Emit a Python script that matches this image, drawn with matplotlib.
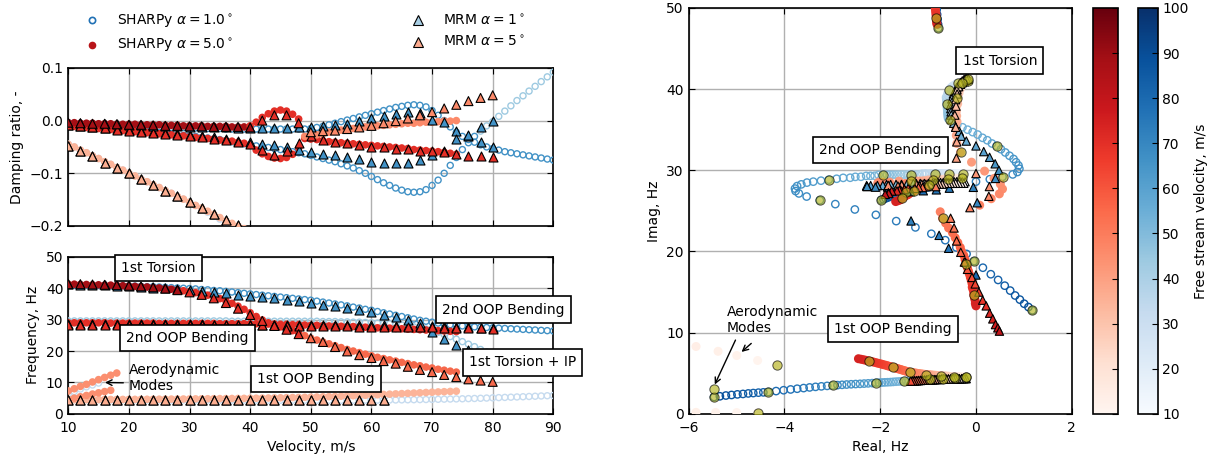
import numpy as np
import matplotlib
matplotlib.use('Agg')
import matplotlib.pyplot as plt
from matplotlib.colors import Normalize
from matplotlib.cm import ScalarMappable
from matplotlib.lines import Line2D

plt.rcParams['font.family'] = 'DejaVu Sans'
plt.rcParams['font.size'] = 10
plt.rcParams['xtick.direction'] = 'in'
plt.rcParams['ytick.direction'] = 'in'
plt.rcParams['xtick.major.pad'] = 5
plt.rcParams['axes.linewidth'] = 1.2

# ---------------- SHARPy, alpha = 1 deg (1 m/s steps, 10..90) ----------------
v1 = np.arange(10, 91)
# torsion mode: natural frequency [Hz] and damping ratio [-]
a1_freq = [41.0, 41.0, 41.0, 41.0, 40.9, 40.9, 40.9, 40.8, 40.8, 40.8,
           40.7, 40.7, 40.6, 40.5, 40.5, 40.4, 40.3, 40.2, 40.1, 40.0,
           39.9, 39.8, 39.6, 39.5, 39.3, 39.2, 39.0, 38.8, 38.6, 38.4,
           38.2, 38.0, 37.8, 37.6, 37.4, 37.2, 37.0, 36.8, 36.6, 36.4,
           36.2, 35.9, 35.6, 35.3, 35.0, 34.7, 34.4, 34.0, 33.7, 33.3,
           33.0, 32.6, 32.2, 31.8, 31.4, 31.0, 30.6, 30.2, 29.8, 29.5,
           29.2, 28.9, 28.6, 28.4, 28.2, 28.0, 27.9, 27.7, 27.6, 27.5,
           27.4, 27.3, 27.2, 27.1, 27.0, 26.9, 26.8, 26.7, 26.6, 26.5, 26.4]
a1_damp = [-0.004, -0.005, -0.005, -0.006, -0.006, -0.007, -0.007, -0.008, -0.008, -0.009,
           -0.009, -0.010, -0.010, -0.011, -0.011, -0.012, -0.012, -0.013, -0.013, -0.013,
           -0.014, -0.014, -0.014, -0.015, -0.015, -0.015, -0.016, -0.016, -0.016, -0.016,
           -0.016, -0.016, -0.016, -0.016, -0.016, -0.016, -0.016, -0.016, -0.016, -0.016,
           -0.015, -0.013, -0.011, -0.008, -0.005, -0.002, 0.001, 0.004, 0.007, 0.010,
           0.013, 0.016, 0.019, 0.022, 0.025, 0.027, 0.029, 0.030, 0.029, 0.026,
           0.019, 0.010, 0.000, -0.012, -0.022, -0.030, -0.036, -0.041, -0.046, -0.050,
           -0.053, -0.056, -0.059, -0.061, -0.063, -0.065, -0.067, -0.069, -0.071, -0.073, -0.075]
# 2nd out-of-plane bending
b1_freq = [29.6, 29.6, 29.6, 29.6, 29.6, 29.6, 29.6, 29.6, 29.6, 29.6,
           29.6, 29.6, 29.6, 29.6, 29.6, 29.6, 29.6, 29.6, 29.6, 29.6,
           29.6, 29.6, 29.6, 29.6, 29.6, 29.6, 29.6, 29.5, 29.5, 29.5,
           29.5, 29.5, 29.5, 29.5, 29.5, 29.5, 29.5, 29.5, 29.5, 29.5,
           29.5, 29.5, 29.4, 29.4, 29.4, 29.3, 29.3, 29.2, 29.2, 29.1,
           29.0, 28.9, 28.8, 28.7, 28.5, 28.3, 28.0, 27.7, 27.4, 27.0,
           26.5, 26.0, 25.3, 24.6, 23.8, 23.0, 22.2, 21.4, 20.5, 19.7,
           18.8, 18.0, 17.2, 16.5, 15.8, 15.2, 14.6, 14.1, 13.6, 13.2, 12.8]
b1_damp = [-0.009, -0.010, -0.011, -0.012, -0.013, -0.014, -0.015, -0.016, -0.017, -0.018,
           -0.019, -0.020, -0.021, -0.022, -0.023, -0.024, -0.025, -0.026, -0.027, -0.028,
           -0.029, -0.030, -0.032, -0.033, -0.035, -0.036, -0.038, -0.040, -0.042, -0.044,
           -0.046, -0.048, -0.049, -0.051, -0.053, -0.055, -0.057, -0.059, -0.061, -0.063,
           -0.066, -0.069, -0.072, -0.075, -0.078, -0.082, -0.086, -0.090, -0.095, -0.100,
           -0.106, -0.112, -0.118, -0.123, -0.128, -0.132, -0.135, -0.136, -0.135, -0.131,
           -0.123, -0.113, -0.100, -0.085, -0.070, -0.055, -0.042, -0.030, -0.020, -0.010,
           -0.002, 0.008, 0.018, 0.028, 0.038, 0.047, 0.056, 0.065, 0.074, 0.083, 0.092]
# 1st out-of-plane bending
c1_freq = [4.50, 4.50, 4.49, 4.49, 4.48, 4.48, 4.47, 4.47, 4.46, 4.46,
           4.45, 4.45, 4.44, 4.44, 4.43, 4.43, 4.42, 4.42, 4.41, 4.41,
           4.40, 4.40, 4.39, 4.39, 4.38, 4.38, 4.37, 4.37, 4.36, 4.36,
           4.35, 4.35, 4.34, 4.34, 4.33, 4.33, 4.32, 4.32, 4.31, 4.31,
           4.30, 4.30, 4.30, 4.30, 4.30, 4.30, 4.31, 4.32, 4.33, 4.34,
           4.35, 4.36, 4.38, 4.40, 4.42, 4.45, 4.48, 4.51, 4.54, 4.57,
           4.60, 4.64, 4.68, 4.72, 4.76, 4.80, 4.85, 4.90, 4.96, 5.03,
           5.10, 5.17, 5.24, 5.31, 5.38, 5.45, 5.53, 5.61, 5.69, 5.77, 5.85]
c1_damp = [-0.045, -0.050, -0.056, -0.061, -0.067, -0.072, -0.078, -0.083, -0.089, -0.094,
           -0.100, -0.105, -0.111, -0.116, -0.122, -0.127, -0.133, -0.138, -0.144, -0.149,
           -0.155, -0.161, -0.168, -0.174, -0.181, -0.187, -0.194, -0.200, -0.207, -0.213,
           -0.220, -0.233, -0.246, -0.259, -0.272, -0.285, -0.298, -0.311, -0.324, -0.337,
           -0.350, -0.363, -0.376, -0.389, -0.402, -0.415, -0.428, -0.441, -0.454, -0.467,
           -0.480, -0.497, -0.514, -0.531, -0.548, -0.565, -0.582, -0.599, -0.616, -0.633,
           -0.650, -0.670, -0.690, -0.710, -0.730, -0.750, -0.770, -0.790, -0.810, -0.830,
           -0.850, -0.859, -0.867, -0.876, -0.884, -0.893, -0.901, -0.910, -0.918, -0.927, -0.935]
# aerodynamic mode and high-frequency mode (alpha = 1)
d1_v = [10, 11, 12, 13, 14, 15]
d1_freq = [6.3, 7.1, 7.9, 8.6, 9.2, 9.8]
d1_damp = [-0.87, -0.87, -0.87, -0.87, -0.87, -0.87]
g1_v = [84, 85, 86, 87, 88, 89, 90]
g1_freq = [51.0, 50.4, 49.8, 49.2, 48.6, 48.0, 47.5]
g1_damp = [-0.0165, -0.0165, -0.0165, -0.0165, -0.0165, -0.0165, -0.0165]

# ---------------- SHARPy, alpha = 5 deg (1 m/s steps, 10..74) ----------------
v5 = np.arange(10, 75)
a5_freq = [41.3, 41.3, 41.2, 41.2, 41.1, 41.1, 41.0, 41.0, 40.9, 40.8,
           40.7, 40.6, 40.5, 40.4, 40.2, 40.1, 39.9, 39.7, 39.5, 39.2,
           38.9, 38.6, 38.2, 37.8, 37.3, 36.7, 36.0, 35.2, 34.3, 33.3,
           32.2, 31.0, 29.9, 29.0, 28.3, 27.7, 27.1, 26.5, 25.7, 24.9,
           24.1, 23.5, 22.9, 22.3, 21.7, 21.1, 20.5, 20.0, 19.5, 19.0,
           18.5, 18.0, 17.6, 17.2, 16.8, 16.4, 16.0, 15.6, 15.3, 14.9,
           14.6, 14.2, 13.9, 13.6, 13.3]
a5_damp = [-0.004, -0.004, -0.005, -0.005, -0.005, -0.006, -0.006, -0.006, -0.007, -0.007,
           -0.007, -0.007, -0.008, -0.008, -0.008, -0.008, -0.009, -0.009, -0.009, -0.010,
           -0.010, -0.010, -0.010, -0.011, -0.011, -0.011, -0.011, -0.012, -0.012, -0.012,
           -0.010, -0.003, 0.006, 0.013, 0.018, 0.020, 0.018, 0.012, 0.003, -0.030,
           -0.029, -0.027, -0.025, -0.022, -0.020, -0.018, -0.016, -0.015, -0.013, -0.012,
           -0.011, -0.010, -0.009, -0.008, -0.007, -0.006, -0.005, -0.005, -0.004, -0.003,
           -0.003, -0.002, -0.001, -0.001, 0.000]
b5_freq = [29.0, 29.0, 29.0, 29.0, 29.0, 29.0, 29.0, 28.9, 28.9, 28.9,
           28.9, 28.9, 28.9, 28.9, 28.9, 28.8, 28.8, 28.8, 28.8, 28.8,
           28.8, 28.8, 28.8, 28.8, 28.8, 28.7, 28.7, 28.7, 28.7, 28.7,
           28.7, 28.7, 28.6, 28.6, 28.6, 28.5, 28.5, 28.4, 28.4, 28.3,
           28.2, 28.2, 28.1, 28.0, 28.0, 27.9, 27.8, 27.8, 27.7, 27.6,
           27.5, 27.4, 27.4, 27.3, 27.2, 27.1, 27.0, 26.9, 26.8, 26.7,
           26.6, 26.5, 26.4, 26.3, 26.2]
b5_damp = [-0.010, -0.011, -0.012, -0.013, -0.014, -0.015, -0.016, -0.017, -0.018, -0.019,
           -0.020, -0.021, -0.022, -0.023, -0.024, -0.025, -0.026, -0.027, -0.028, -0.029,
           -0.031, -0.032, -0.033, -0.034, -0.035, -0.037, -0.038, -0.039, -0.041, -0.043,
           -0.047, -0.056, -0.063, -0.068, -0.071, -0.072, -0.070, -0.064, -0.052, -0.034,
           -0.035, -0.036, -0.038, -0.040, -0.041, -0.042, -0.043, -0.044, -0.045, -0.046,
           -0.047, -0.048, -0.049, -0.050, -0.051, -0.052, -0.053, -0.055, -0.056, -0.057,
           -0.058, -0.059, -0.060, -0.062, -0.064]
c5_freq = [4.50, 4.51, 4.52, 4.53, 4.54, 4.55, 4.56, 4.57, 4.58, 4.59,
           4.60, 4.61, 4.63, 4.64, 4.66, 4.67, 4.69, 4.70, 4.72, 4.73,
           4.75, 4.77, 4.79, 4.81, 4.83, 4.85, 4.87, 4.89, 4.91, 4.93,
           4.95, 4.98, 5.01, 5.04, 5.08, 5.11, 5.15, 5.19, 5.22, 5.26,
           5.30, 5.36, 5.42, 5.49, 5.56, 5.63, 5.70, 5.78, 5.85, 5.93,
           6.00, 6.09, 6.18, 6.27, 6.36, 6.45, 6.54, 6.63, 6.72, 6.81,
           6.90, 6.98, 7.06, 7.14, 7.22]
c5_damp = [-0.045, -0.050, -0.056, -0.061, -0.067, -0.072, -0.078, -0.083, -0.089, -0.094,
           -0.100, -0.105, -0.111, -0.116, -0.122, -0.127, -0.133, -0.138, -0.144, -0.149,
           -0.155, -0.161, -0.166, -0.172, -0.178, -0.184, -0.190, -0.195, -0.200, -0.205,
           -0.210, -0.215, -0.220, -0.225, -0.230, -0.235, -0.240, -0.245, -0.250, -0.255,
           -0.260, -0.263, -0.266, -0.269, -0.272, -0.275, -0.278, -0.281, -0.284, -0.287,
           -0.290, -0.293, -0.297, -0.300, -0.304, -0.307, -0.311, -0.314, -0.318, -0.321,
           -0.325, -0.329, -0.332, -0.336, -0.340]
d5_v = [10, 11, 12, 13, 14, 15, 16, 17, 18]
d5_freq = [7.3, 8.0, 8.75, 9.4, 10.15, 10.9, 11.6, 12.3, 13.0]
d5_damp = [-0.570, -0.570, -0.571, -0.573, -0.576, -0.580, -0.585, -0.590, -0.595]
e5_v = [10, 11, 12, 13, 14, 15, 16, 17]
e5_freq = [4.56, 5.0, 5.44, 5.85, 6.3, 6.7, 7.1, 7.5]
e5_damp = [-0.9995, -0.9995, -0.9995, -0.9995, -0.9995, -0.9995, -0.9995, -0.9995]
g5_v = [60, 61, 62, 63, 64, 65, 66, 67, 68, 69, 70, 71, 72, 73, 74]
g5_freq = [52.0, 51.6, 51.2, 50.9, 50.6, 50.3, 50.0, 49.7, 49.4, 49.1, 48.8, 48.6, 48.4, 48.2, 48.0]
g5_damp = [-0.017] * 15

# ---------------- MRM (2 m/s steps, 10..80) ----------------
vm = np.arange(10, 81, 2)
p1_freq = [41.2, 41.1, 41.0, 40.9, 40.8, 40.6, 40.4, 40.2, 40.0, 39.7,
           39.4, 39.1, 38.8, 38.4, 38.0, 37.6, 37.2, 36.8, 36.3, 35.8,
           35.3, 34.8, 34.2, 33.6, 33.0, 32.3, 31.6, 30.8, 30.0, 29.0,
           26.0, 23.8, 22.0, 20.4, 18.7, 17.1]
p1_damp = [-0.004, -0.005, -0.006, -0.006, -0.007, -0.008, -0.009, -0.010, -0.010, -0.011,
           -0.012, -0.012, -0.013, -0.013, -0.014, -0.014, -0.014, -0.014, -0.014, -0.013,
           -0.012, -0.010, -0.009, -0.006, 0.000, 0.005, 0.009, 0.013, 0.016, 0.014,
           0.001, -0.057, -0.035, -0.028, -0.012, 0.000]
q1_freq = [28.6, 28.6, 28.6, 28.6, 28.6, 28.5, 28.5, 28.5, 28.5, 28.5,
           28.5, 28.5, 28.4, 28.4, 28.4, 28.4, 28.4, 28.4, 28.3, 28.3,
           28.3, 28.3, 28.3, 28.2, 28.2, 28.2, 28.2, 28.1, 28.1, 28.0,
           28.0, 27.9, 27.8, 27.6, 27.5, 27.4]
q1_damp = [-0.008, -0.010, -0.012, -0.014, -0.016, -0.018, -0.020, -0.022, -0.024, -0.026,
           -0.028, -0.030, -0.032, -0.035, -0.038, -0.041, -0.044, -0.046, -0.051, -0.055,
           -0.059, -0.063, -0.066, -0.069, -0.073, -0.078, -0.081, -0.081, -0.081, -0.075,
           -0.066, -0.002, -0.020, -0.030, -0.040, -0.050]
t5_freq = [41.3, 41.3, 41.2, 41.1, 41.0, 40.8, 40.6, 40.3, 39.9, 39.4,
           38.7, 37.9, 36.8, 35.3, 33.5, 31.5, 29.6, 28.0, 26.8, 25.4,
           24.1, 22.9, 21.3, 19.9, 18.7, 17.8, 16.8, 16.0, 15.0, 14.0,
           13.3, 12.4, 11.7, 11.0, 10.6, 10.2]
t5_damp = [-0.004, -0.005, -0.006, -0.006, -0.007, -0.008, -0.008, -0.009, -0.010, -0.010,
           -0.011, -0.011, -0.012, -0.012, -0.012, -0.013, 0.000, 0.010, 0.010, -0.005,
           -0.022, -0.020, -0.019, -0.016, -0.013, -0.010, -0.005, -0.001, 0.004, 0.010,
           0.016, 0.023, 0.030, 0.037, 0.043, 0.048]
s5_freq = [28.4, 28.4, 28.4, 28.4, 28.4, 28.4, 28.4, 28.4, 28.3, 28.3,
           28.3, 28.3, 28.3, 28.3, 28.3, 28.3, 28.2, 28.2, 28.1, 28.1,
           28.0, 28.0, 27.9, 27.9, 27.8, 27.8, 27.8, 27.7, 27.7, 27.6,
           27.6, 27.5, 27.5, 27.3, 27.2, 27.1]
s5_damp = [-0.009, -0.011, -0.013, -0.015, -0.017, -0.019, -0.021, -0.023, -0.025, -0.027,
           -0.029, -0.031, -0.034, -0.037, -0.040, -0.044, -0.055, -0.065, -0.058, -0.042,
           -0.030, -0.037, -0.040, -0.043, -0.046, -0.050, -0.051, -0.054, -0.054, -0.057,
           -0.058, -0.060, -0.064, -0.067, -0.067, -0.070]
vm_oop = np.arange(10, 63, 2)
u_freq = [4.35, 4.35, 4.35, 4.34, 4.34, 4.34, 4.33, 4.33, 4.33, 4.32,
          4.32, 4.32, 4.31, 4.31, 4.31, 4.30, 4.30, 4.30, 4.29, 4.29,
          4.29, 4.28, 4.28, 4.27, 4.27, 4.26, 4.26]
u_damp = [-0.048, -0.058, -0.068, -0.080, -0.090, -0.100, -0.111, -0.122, -0.133, -0.144,
          -0.155, -0.166, -0.177, -0.188, -0.199, -0.210, -0.220, -0.230, -0.240, -0.250,
          -0.260, -0.270, -0.280, -0.290, -0.300, -0.310, -0.320]

norm = Normalize(10, 100)
blues = plt.get_cmap('Blues')
reds = plt.get_cmap('Reds')


def seg_colors(v, breaks, colors):
    # colour per point: first break that v is below picks the colour
    out = []
    for x in v:
        c = colors[-1]
        for b, col in zip(breaks, colors):
            if x <= b:
                c = col
                break
        out.append(c)
    return out


def to_locus(freq, damp):
    freq = np.asarray(freq, dtype=float)
    damp = np.asarray(damp, dtype=float)
    return damp * freq, freq * np.sqrt(1 - damp ** 2)


fig = plt.figure(figsize=(12.25, 4.65), dpi=100)
ax_d = fig.add_axes([0.0557, 0.514, 0.396, 0.340])
ax_f = fig.add_axes([0.0557, 0.110, 0.396, 0.3376])
ax_r = fig.add_axes([0.5622, 0.110, 0.3127, 0.873])
cax_r = fig.add_axes([0.8922, 0.110, 0.0204, 0.873])
cax_b = fig.add_axes([0.9286, 0.110, 0.0163, 0.873])

MID_B, LIGHT_B, PALE_B = '#4292c6', '#9ecae1', '#c6dbef'
DARK_R, RED, TOMATO, SALMON, LIGHT_S, AERO_R = '#a50f15', '#e32f27', '#f6694c', '#fc8a6a', '#fcb499', '#fb8f70'


def s1(ax, v, y, col):
    ax.scatter(v, y, s=19, facecolors='none', edgecolors=col, linewidths=1.0, zorder=3)


def s5(ax, v, y, col):
    ax.scatter(v, y, s=30, c=col, edgecolors='none', zorder=4)


def mrm(ax, v, y, col, z=5):
    ax.scatter(v, y, s=42, marker='^', c=col, edgecolors='k', linewidths=0.8, zorder=z)


# ---- damping ratio ----
s1(ax_d, v1, c1_damp, PALE_B)
s1(ax_d, v1, a1_damp, MID_B)
s1(ax_d, v1, b1_damp, seg_colors(v1, [77], [MID_B, LIGHT_B]))
s5(ax_d, v5, c5_damp, LIGHT_S)
s5(ax_d, v5, b5_damp, RED)
s5(ax_d, v5, a5_damp, seg_colors(v5, [39, 48], [DARK_R, RED, SALMON]))
mrm(ax_d, vm_oop, u_damp, PALE_B)
mrm(ax_d, vm, q1_damp, MID_B)
mrm(ax_d, vm, p1_damp, MID_B)
mrm(ax_d, vm_oop, u_damp, '#fcae91', 6)
mrm(ax_d, vm, s5_damp, RED, 6)
mrm(ax_d, vm, t5_damp, seg_colors(vm, [40, 48], [DARK_R, RED, SALMON]), 6)
ax_d.set_xlim(10, 90)
ax_d.set_ylim(-0.2, 0.1)
ax_d.set_yticks([-0.2, -0.1, 0.0, 0.1])
ax_d.set_xticks(range(10, 91, 10))
ax_d.tick_params(labelbottom=False, top=True, right=True, length=4)
ax_d.set_ylabel('Damping ratio, -')

# ---- frequency ----
s1(ax_f, v1, c1_freq, PALE_B)
s1(ax_f, d1_v, d1_freq, PALE_B)
s1(ax_f, v1, b1_freq, LIGHT_B)
s1(ax_f, v1, a1_freq, MID_B)
s5(ax_f, v5, c5_freq, LIGHT_S)
s5(ax_f, d5_v, d5_freq, AERO_R)
s5(ax_f, e5_v, e5_freq, AERO_R)
s5(ax_f, v5, b5_freq, RED)
s5(ax_f, v5, a5_freq, seg_colors(v5, [28, 48], [DARK_R, RED, TOMATO]))
mrm(ax_f, vm_oop, u_freq, PALE_B)
mrm(ax_f, vm, q1_freq, MID_B)
mrm(ax_f, vm, p1_freq, MID_B)
mrm(ax_f, vm_oop, u_freq, '#fcae91', 6)
mrm(ax_f, vm, s5_freq, RED, 6)
mrm(ax_f, vm, t5_freq, seg_colors(vm, [28, 48], [DARK_R, RED, TOMATO]), 6)
ax_f.set_xlim(10, 90)
ax_f.set_ylim(0, 50)
ax_f.set_xticks(range(10, 91, 10))
ax_f.tick_params(top=True, right=True, length=4)
ax_f.set_xlabel('Velocity, m/s')
ax_f.set_ylabel('Frequency, Hz')

box = dict(boxstyle='square,pad=0.45', fc='white', ec='k', lw=1.2)
for txt, x, y in [('1st Torsion', 24.9, 46.5), ('2nd OOP Bending', 29.6, 24.1),
                  ('1st OOP Bending', 50.8, 11.1), ('2nd OOP Bending', 81.7, 33.2),
                  ('1st Torsion + IP', 84.9, 16.4)]:
    ax_f.text(x, y, txt, ha='center', va='center', bbox=box, zorder=10, clip_on=False)
ax_f.annotate('Aerodynamic\nModes', xy=(15.6, 10.0), xytext=(20, 11.3), ha='left', va='center',
              arrowprops=dict(arrowstyle='->', color='k', lw=1, relpos=(0, 0.35)), zorder=10)

for ax in (ax_d, ax_f, ax_r):
    ax.grid(True, color='#b0b0b0', lw=1)
    ax.set_axisbelow(True)

# ---- root locus ----
for v, fr, dp in [(v1, c1_freq, c1_damp), (v1, b1_freq, b1_damp), (v1, a1_freq, a1_damp),
                  (d1_v, d1_freq, d1_damp), (g1_v, g1_freq, g1_damp)]:
    re, im = to_locus(fr, dp)
    ax_r.scatter(re, im, s=28, facecolors='none', edgecolors=blues(norm(np.asarray(v))),
                 linewidths=1.0, zorder=3)
for v, fr, dp in [(v5, c5_freq, c5_damp), (v5, b5_freq, b5_damp), (v5, a5_freq, a5_damp),
                  (d5_v, d5_freq, d5_damp), (e5_v, e5_freq, e5_damp), (g5_v, g5_freq, g5_damp)]:
    re, im = to_locus(fr, dp)
    ax_r.scatter(re, im, s=42, c=reds(norm(np.asarray(v))), edgecolors='none', zorder=4)
for v, fr, dp, cm in [(vm_oop, u_freq, u_damp, blues), (vm, q1_freq, q1_damp, blues),
                      (vm, p1_freq, p1_damp, blues), (vm_oop, u_freq, u_damp, reds),
                      (vm, s5_freq, s5_damp, reds), (vm, t5_freq, t5_damp, reds)]:
    re, im = to_locus(fr, dp)
    ax_r.scatter(re, im, s=36, marker='^', c=cm(norm(np.asarray(v))), edgecolors='k',
                 linewidths=0.8, zorder=5)
# every 10 m/s on the SHARPy branches
for v, fr, dp in [(v1, c1_freq, c1_damp), (v1, b1_freq, b1_damp), (v1, a1_freq, a1_damp),
                  (d1_v, d1_freq, d1_damp), (g1_v, g1_freq, g1_damp),
                  (v5, c5_freq, c5_damp), (v5, b5_freq, b5_damp), (v5, a5_freq, a5_damp),
                  (d5_v, d5_freq, d5_damp), (e5_v, e5_freq, e5_damp), (g5_v, g5_freq, g5_damp)]:
    v = np.asarray(v)
    re, im = to_locus(fr, dp)
    m = v % 10 == 0
    ax_r.scatter(re[m], im[m], s=45, facecolors='#b5b520', edgecolors='k', linewidths=0.7,
                 alpha=0.65, zorder=6)

ax_r.set_xlim(-6, 2)
ax_r.set_ylim(0, 50)
ax_r.set_xticks([-6, -4, -2, 0, 2])
ax_r.tick_params(top=True, right=True, length=4)
ax_r.set_xlabel('Real, Hz')
ax_r.set_ylabel('Imag, Hz')
for txt, x, y in [('1st Torsion', 0.5, 43.5), ('2nd OOP Bending', -2.0, 32.5),
                  ('1st OOP Bending', -1.73, 10.45)]:
    ax_r.text(x, y, txt, ha='center', va='center', bbox=box, zorder=10)
ax_r.annotate('Aerodynamic\nModes', xy=(-5.48, 3.3), xytext=(-5.2, 11.6), ha='left', va='center',
              arrowprops=dict(arrowstyle='->', color='k', lw=1, relpos=(0.12, 0)), zorder=10)
ax_r.annotate('', xy=(-4.94, 7.4), xytext=(-4.65, 8.9),
              arrowprops=dict(arrowstyle='->', color='k', lw=1), zorder=10)

# ---- colour bars ----
cb_r = fig.colorbar(ScalarMappable(norm=norm, cmap=reds), cax=cax_r)
cb_r.set_ticks(range(10, 101, 10))
cb_r.ax.set_yticklabels([])
cb_b = fig.colorbar(ScalarMappable(norm=norm, cmap=blues), cax=cax_b)
cb_b.set_ticks(range(10, 101, 10))
cb_b.set_label('Free stream velocity, m/s')
for cb in (cb_r, cb_b):
    cb.outline.set_linewidth(1.2)
    cb.ax.tick_params(direction='in', length=4)

# ---- legend ----
handles = [Line2D([], [], ls='none', marker='o', ms=4.5, mfc='none', mec='#2171b5', mew=1.2),
           Line2D([], [], ls='none', marker='o', ms=5.5, mfc='#b81419', mec='none'),
           Line2D([], [], ls='none', marker='^', ms=6.5, mfc='#a9cfe5', mec='k', mew=0.8),
           Line2D([], [], ls='none', marker='^', ms=6.5, mfc='#fcab8f', mec='k', mew=0.8)]
labels = [r'SHARPy $\alpha = 1.0^\circ$', r'SHARPy $\alpha = 5.0^\circ$',
          r'MRM $\alpha = 1^\circ$', r'MRM $\alpha = 5^\circ$']
fig.legend(handles, labels, loc='upper left', bbox_to_anchor=(0.0596, 0.985), ncol=2,
           frameon=False, columnspacing=12.3, handlelength=2, handletextpad=0.8,
           borderaxespad=0)

fig.savefig('out.png', dpi=100)
